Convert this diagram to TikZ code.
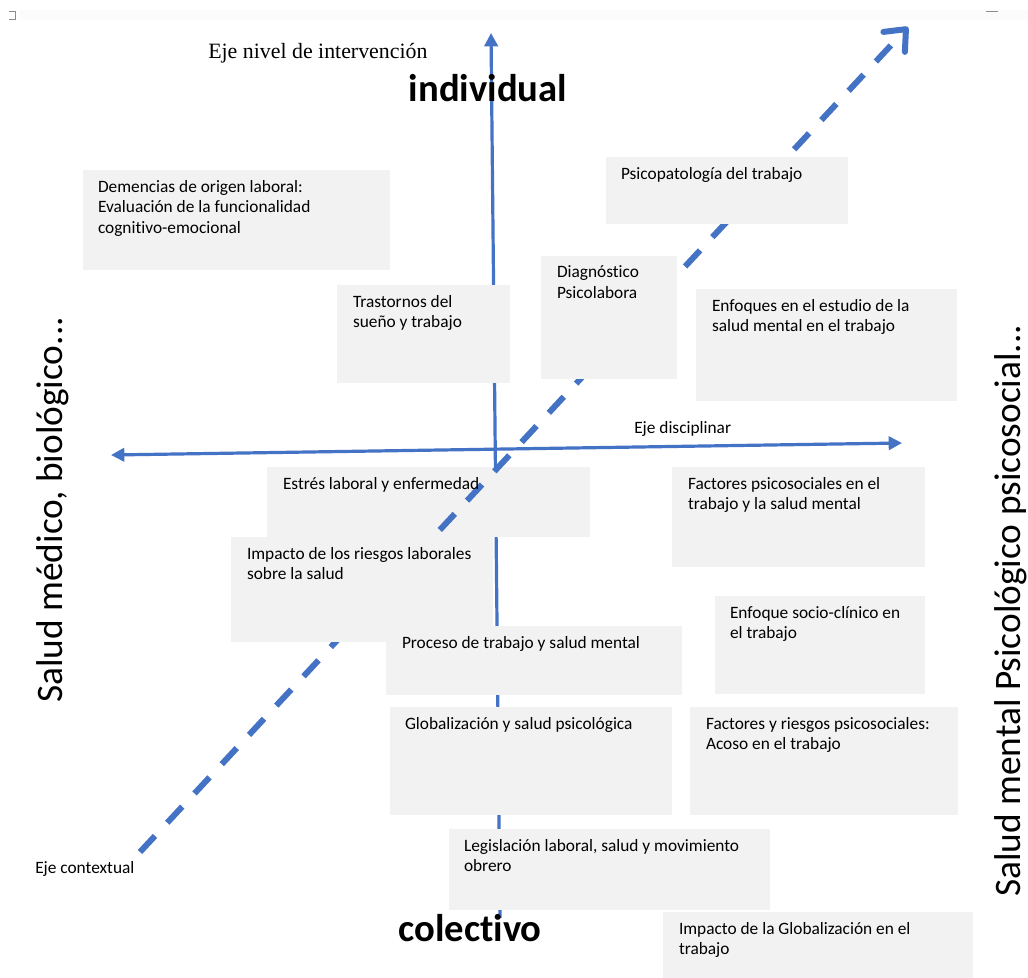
\documentclass[tikz,border=0pt]{standalone}
\usepackage{fontspec}
\setmainfont{Carlito}[Ligatures=NoCommon,RawFeature={-liga;-clig;-dlig}]
\newfontfamily\timesfont{Liberation Serif}
\usetikzlibrary{fit,arrows.meta,calc}
\definecolor{axisblue}{HTML}{4472C4}
\definecolor{boxgray}{HTML}{F2F2F2}
\tikzset{
  box/.style={fill=boxgray, draw=none, inner sep=0pt},
  lbl/.style={anchor=north west, inner sep=0pt, align=left, font=\fontsize{13}{15.5}\selectfont},
  axisline/.style={draw=axisblue, line width=2.4pt},
  diagline/.style={draw=axisblue, line width=4.5pt, dash pattern=on 16.5pt off 13.5pt},
  bigword/.style={inner sep=0pt, anchor=base, font=\bfseries\fontsize{29}{34}\selectfont},
  sideword/.style={inner sep=0pt, anchor=base west, rotate=90, font=\fontsize{28}{33}\selectfont},
  smallword/.style={inner sep=0pt, anchor=base west, font=\fontsize{13}{15.5}\selectfont}
}
\begin{document}
\begin{tikzpicture}[x=0.75pt,y=-0.75pt]
\useasboundingbox (0,0) rectangle (1028,978);
\fill[white] (0,0) rectangle (1028,978);
% faint window artefacts at the top
\fill[black!1.5] (20,10) rectangle (1028,20);
\draw[black!45, line width=0.6pt] (9,11) -- (15,11) -- (15,19) -- (9,19);
\draw[black!45, line width=0.6pt] (986,11) -- (998,11);

% axis end points
\coordinate (vbot) at (500,918);
\coordinate (vtop) at (491,33);
\coordinate (hleft) at (111,455);
\coordinate (hright) at (902,443);
\coordinate (dstart) at (140,852);
\coordinate (dend) at (908,27);

% solid axes
\draw[axisline, -{Triangle[length=10pt,width=10pt]}] (vbot) -- (vtop);
\draw[axisline, {Triangle[length=10pt,width=10pt]}-{Triangle[length=10pt,width=10pt]}] (hleft) -- (hright);

% box lying under the dashed axis
\node[box, fit={(267,467) (590,537)}] (b6) {};

% dashed contextual axis
\draw[diagline, -{Straight Barb[length=13pt,width=22pt,line cap=round,line join=round]}] (dstart) -- (dend);

% other boxes
\node[box, fit={(83,170) (390,270)}] (b1) {};
\node[box, fit={(337,285) (510,383)}] (b2) {};
\node[box, fit={(606,157) (848,224)}] (b3) {};
\node[box, fit={(541,256) (677,379)}] (b4) {};
\node[box, fit={(696,289) (957,401)}] (b5) {};
\node[box, fit={(231,537) (493,642)}] (b7) {};
\node[box, fit={(672,467) (925,567)}] (b8) {};
\node[box, fit={(715,596) (925,694)}] (b9) {};
\node[box, fit={(386,626) (682,695)}] (b10) {};
\node[box, fit={(390,707) (672,815)}] (b11) {};
\node[box, fit={(690,707) (958,815)}] (b12) {};
\node[box, fit={(449,829) (770,910)}] (b13) {};
\node[box, fit={(663,912) (973,978)}] (b14) {};

% box texts
\node[lbl] (t1) at ([shift={(15,10)}]b1.north west) {Demencias de origen laboral:\\Evaluación de la funcionalidad\\cognitivo-emocional};
\node[lbl] (t2) at ([shift={(16,10)}]b2.north west) {Trastornos del\\sueño y trabajo};
\node[lbl] (t3) at ([shift={(15,10)}]b3.north west) {Psicopatología del trabajo};
\node[lbl] (t4) at ([shift={(16,10)}]b4.north west) {Diagnóstico\\Psicolabora};
\node[lbl] (t5) at ([shift={(16,10)}]b5.north west) {Enfoques en el estudio de la\\salud mental en el trabajo};
\node[lbl] (t6) at ([shift={(16,10)}]b6.north west) {Estrés laboral y enfermedad};
\node[lbl] (t7) at ([shift={(16,10)}]b7.north west) {Impacto de los riesgos laborales\\sobre la salud};
\node[lbl] (t8) at ([shift={(16,10)}]b8.north west) {Factores psicosociales en el\\trabajo y la salud mental};
\node[lbl] (t9) at ([shift={(15,10)}]b9.north west) {Enfoque socio-clínico en\\el trabajo};
\node[lbl] (t10) at ([shift={(16,10)}]b10.north west) {Proceso de trabajo y salud mental};
\node[lbl] (t11) at ([shift={(15,10)}]b11.north west) {Globalización y salud psicológica};
\node[lbl] (t12) at ([shift={(16,10)}]b12.north west) {Factores y riesgos psicosociales:\\Acoso en el trabajo};
\node[lbl] (t13) at ([shift={(15,10)}]b13.north west) {Legislación laboral, salud y movimiento\\obrero};
\node[lbl] (t14) at ([shift={(16,10)}]b14.north west) {Impacto de la Globalización en el\\trabajo};

% axis labels
\node[inner sep=0pt, anchor=base west, font=\timesfont\fontsize{16.4}{19}\selectfont] (ejeniv) at (208,58) {Eje nivel de intervención};
\node[bigword] (indiv) at (488,101) {individual};
\node[bigword] (colec) at (470,941) {colectivo};
\node[smallword] (ejedis) at (634,433) {Eje disciplinar};
\node[smallword] (ejecon) at (35,873) {Eje contextual};
\node[sideword] (leftside) at (62,703) {Salud médico, biológico...};
\node[sideword] (rightside) at (1020,897) {Salud mental Psicológico psicosocial...};
\end{tikzpicture}
\end{document}
